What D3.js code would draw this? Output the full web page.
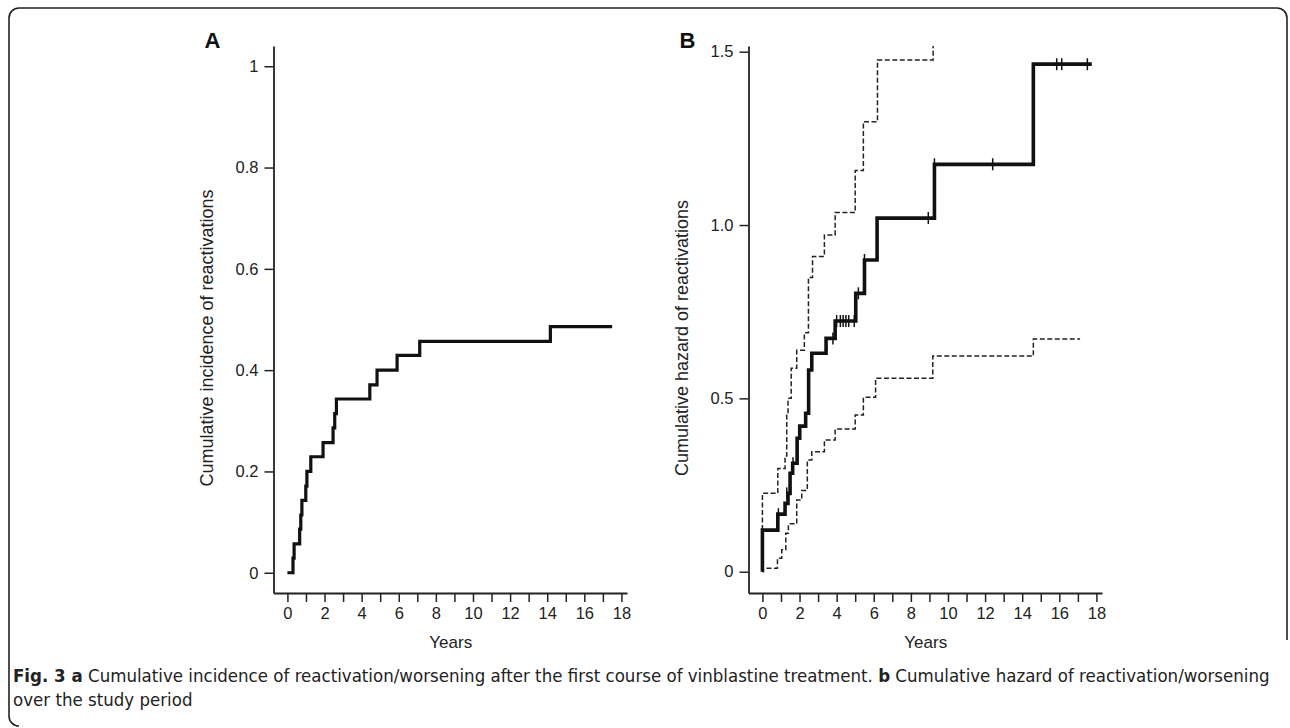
<!DOCTYPE html>
<html>
<head>
<meta charset="utf-8">
<script src="https://cdn.jsdelivr.net/npm/d3@7"></script>
<style>
  html, body { margin: 0; padding: 0; background: #fff; }
  svg { display: block; }
</style>
</head>
<body>
<svg id="chart" width="1290" height="728"></svg>
<script>
// ---------- data ----------
// Panel A: cumulative incidence step curve (time of step, value after step)
const incTimes  = [0, 0.30, 0.36, 0.66, 0.72, 0.78, 0.99, 1.05, 1.26, 1.92, 2.46, 2.55, 2.64, 4.44, 4.83, 5.91, 7.13, 14.17, 17.5];
const incValues = [0, 0.029, 0.057, 0.086, 0.114, 0.143, 0.171, 0.200, 0.229, 0.257, 0.286, 0.314, 0.343, 0.371, 0.400, 0.429, 0.457, 0.486, 0.486];

// Panel B: cumulative hazard with confidence bounds
const hazTimes  = [0, 0, 0.83, 1.22, 1.38, 1.49, 1.63, 1.87, 2.01, 2.33, 2.49, 2.66, 3.43, 3.92, 5.03, 5.50, 6.18, 9.27, 14.60, 17.75];
const hazValues = [0, 0.120, 0.166, 0.197, 0.226, 0.284, 0.313, 0.385, 0.420, 0.457, 0.582, 0.630, 0.673, 0.723, 0.803, 0.899, 1.020, 1.175, 1.464, 1.464];

const upperTimes  = [0, 0, 0.83, 1.22, 1.31, 1.38, 1.55, 1.85, 2.26, 2.48, 2.70, 3.34, 3.92, 5.00, 5.44, 6.20, 9.20, 9.20];
const upperValues = [0.120, 0.226, 0.298, 0.334, 0.457, 0.500, 0.587, 0.639, 0.689, 0.849, 0.909, 0.971, 1.036, 1.157, 1.298, 1.476, 1.80, 1.80];

const lowerTimes  = [0, 0.05, 0.81, 1.04, 1.26, 1.40, 1.85, 2.12, 2.42, 2.66, 3.34, 3.92, 5.00, 5.44, 6.10, 9.18, 14.60, 17.12];
const lowerValues = [0, 0.010, 0.039, 0.063, 0.111, 0.138, 0.207, 0.234, 0.322, 0.346, 0.380, 0.412, 0.452, 0.503, 0.558, 0.622, 0.671, 0.671];

const censorTimes  = [0.86, 1.31, 1.65, 3.80, 4.00, 4.20, 4.35, 4.50, 4.65, 4.95, 5.17, 5.50, 8.94, 9.27, 12.41, 15.86, 16.13, 17.51];
const censorValues = [0.166, 0.226, 0.313, 0.673, 0.723, 0.723, 0.723, 0.723, 0.723, 0.723, 0.803, 0.899, 1.020, 1.175, 1.175, 1.464, 1.464, 1.464];

// Axes
const xTicks = [0,1,2,3,4,5,6,7,8,9,10,11,12,13,14,15,16,17,18];
const xTickLabels = ["0","","2","","4","","6","","8","","10","","12","","14","","16","","18"];
const yTicksA = [0, 0.2, 0.4, 0.6, 0.8, 1];
const yTickLabelsA = ["0", "0.2", "0.4", "0.6", "0.8", "1"];
const yTicksB = [0, 0.5, 1.0, 1.5];
const yTickLabelsB = ["0", "0.5", "1.0", "1.5"];

const panelLetters = ["A", "B"];
const xTitle = "Years";
const yTitles = ["Cumulative incidence of reactivations", "Cumulative hazard of reactivations"];

// ---------- drawing ----------
const svg = d3.select("#chart");
const FONT = '"Liberation Sans", Arimo, Arial, Helvetica, sans-serif';

// frame
svg.append("path")
  .attr("d", "M1287,640 V18 A10,10 0 0 0 1277,8 H19 A10,10 0 0 0 9,18 V716 A10,10 0 0 0 19,726")
  .attr("fill", "none").attr("stroke", "#222").attr("stroke-width", 1.6);

function panel(opts) {
  const x = d3.scaleLinear().domain([-0.75, 18.3]).range([opts.left, opts.left + 353.5]);
  const y = d3.scaleLinear().domain(opts.yDomain).range([593, 46]);
  const g = svg.append("g");

  const clipId = "clip" + opts.letter;
  svg.append("clipPath").attr("id", clipId).append("rect")
    .attr("x", opts.left).attr("y", 46).attr("width", 354).attr("height", 547);

  const ax = d3.axisBottom(x).tickValues(xTicks).tickSize(9).tickSizeOuter(0).tickPadding(5)
    .tickFormat((d, i) => xTickLabels[i]);
  const gx = g.append("g").attr("transform", `translate(0,593)`).call(ax);
  const ay = d3.axisLeft(y).tickValues(opts.yTicks).tickSize(9).tickSizeOuter(0).tickPadding(6)
    .tickFormat((d, i) => opts.yLabels[i]);
  const gy = g.append("g").attr("transform", `translate(${opts.left},0)`).call(ay);
  [gx, gy].forEach(a => {
    a.select(".domain").attr("stroke", "#222").attr("stroke-width", 1.8);
    a.selectAll(".tick line").attr("stroke", "#222").attr("stroke-width", 1.5);
    a.selectAll(".tick text").style("font-family", FONT).style("font-size", "16.5px").style("fill", "#222");
  });

  g.append("text").attr("x", x(8.8)).attr("y", 648).attr("text-anchor", "middle")
    .style("font-family", FONT).style("font-size", "17px").style("fill", "#222").text(xTitle);
  g.append("text").attr("transform", `translate(${opts.left - 61},338) rotate(-90)`)
    .attr("text-anchor", "middle").style("font-family", FONT).style("font-size", "18px").style("fill", "#222")
    .text(opts.yTitle);
  g.append("text").attr("x", opts.left - 61).attr("y", 48).attr("text-anchor", "middle")
    .style("font-family", FONT).style("font-size", "22px").style("font-weight", "bold").style("fill", "#111")
    .text(opts.letter);

  return {x, y, g, clipId};
}

// Panel A
const pA = panel({left: 273.5, yDomain: [-0.04, 1.04], yTicks: yTicksA, yLabels: yTickLabelsA,
                  yTitle: yTitles[0], letter: panelLetters[0]});
const stepA = d3.line().x(d => pA.x(d[0])).y(d => pA.y(d[1])).curve(d3.curveStepAfter);
pA.g.append("path").datum(incTimes.map((t, i) => [t, incValues[i]]))
  .attr("d", stepA).attr("fill", "none").attr("stroke", "#111").attr("stroke-width", 3.2);

// Panel B
const pB = panel({left: 748.5, yDomain: [-0.0614, 1.5164], yTicks: yTicksB, yLabels: yTickLabelsB,
                  yTitle: yTitles[1], letter: panelLetters[1]});
const stepB = d3.line().x(d => pB.x(d[0])).y(d => pB.y(d[1])).curve(d3.curveStepAfter);
const clipB = pB.g.append("g").attr("clip-path", `url(#${pB.clipId})`);
clipB.append("path").datum(upperTimes.map((t, i) => [t, upperValues[i]]))
  .attr("d", stepB).attr("fill", "none").attr("stroke", "#222").attr("stroke-width", 1.5)
  .attr("stroke-dasharray", "5,2.5");
clipB.append("path").datum(lowerTimes.map((t, i) => [t, lowerValues[i]]))
  .attr("d", stepB).attr("fill", "none").attr("stroke", "#222").attr("stroke-width", 1.5)
  .attr("stroke-dasharray", "5,2.5");
clipB.append("path").datum(hazTimes.map((t, i) => [t, hazValues[i]]))
  .attr("d", stepB).attr("fill", "none").attr("stroke", "#111").attr("stroke-width", 3.6);
clipB.selectAll("line.cens").data(censorTimes.map((t, i) => [t, censorValues[i]])).enter()
  .append("line").attr("class", "cens")
  .attr("x1", d => pB.x(d[0])).attr("x2", d => pB.x(d[0]))
  .attr("y1", d => pB.y(d[1]) - 6).attr("y2", d => pB.y(d[1]) + 6)
  .attr("stroke", "#111").attr("stroke-width", 1.5);

// caption
const CAP = '"DejaVu Sans Condensed", "DejaVu Sans", sans-serif';
function capText(parent) {
  return parent.append("text").style("font-family", CAP).style("font-stretch", "condensed")
    .style("font-size", "18px").style("fill", "#222");
}
const cap1 = capText(svg);
cap1.append("tspan").style("font-weight", "bold").text("Fig. 3 a");
cap1.append("tspan").text(" Cumulative incidence of reactivation/worsening after the first course of vinblastine treatment. ");
cap1.append("tspan").style("font-weight", "bold").text("b");
cap1.append("tspan").text(" Cumulative hazard of reactivation/worsening");
const w1 = cap1.node().getComputedTextLength();
const sx = 1257 / w1;
cap1.attr("transform", `translate(13,682) scale(${sx},1)`);
capText(svg).attr("transform", `translate(13,706) scale(${sx},1)`).text("over the study period");
</script>
</body>
</html>
